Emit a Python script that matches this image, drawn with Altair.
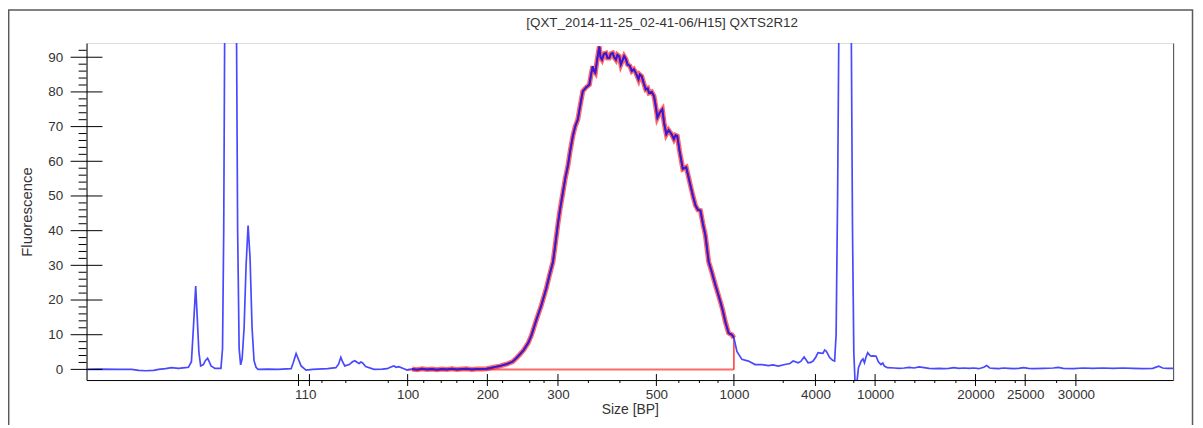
import altair as alt
import pandas as pd

# ---------------- data ----------------
# migration position (instrument time units) and fluorescence
trace_t = [87, 100, 120, 133, 140, 147, 155, 160, 167, 173, 180, 187, 190, 193, 195, 197.3, 199, 200.5,
           202.3, 205, 207, 209.3, 211, 212.7, 216.7, 222.7, 224.3, 225.5, 227, 229, 232.5, 236, 238.3,
           239.5, 241, 242.5, 244, 246, 248, 250, 252, 254, 256, 258, 260, 270, 280, 293.3, 295.5, 298.3,
           300.5, 303.3, 308.3, 315, 330, 338.3, 341, 343.3, 345, 347.3, 351.7, 355, 357.3, 360, 361.7,
           363.5, 365, 368.3, 376.7, 385, 390, 393, 396.7, 399, 401.7, 406.7, 410, 415, 420, 425, 430,
           435, 440, 445, 450, 455, 460, 465, 470, 475, 480, 485, 490, 495, 500, 503.3, 507, 510, 513.3,
           516, 520, 523.3, 527, 531.7, 535, 540, 545, 550, 553, 556.7, 559, 561.7, 564, 566.7, 569,
           571.7, 574, 576.7, 579, 581.7, 584, 586.7, 590, 593.3, 595, 596.7, 598, 599.3, 601, 603.3,
           604.5, 606, 608, 610, 611.5, 613.3, 615, 616.7, 618.3, 620, 621.5, 623.3, 625, 626.5, 628.3,
           630, 631.7, 634, 636, 638, 640, 642.7, 644, 646, 648, 650, 652, 653.3, 656, 658.3, 660, 661.7,
           664, 666.7, 668.5, 670.7, 673, 676, 678.3, 680, 681.7, 684, 687.3, 690.7, 693, 695, 697.5,
           700, 702.5, 705, 707.5, 710, 713.3, 716, 720, 722.5, 725, 727.5, 730, 733.3, 735, 736.7,
           738.7, 741.7, 746.7, 753.3, 760, 766.7, 773.3, 778, 783.3, 790, 795, 798.3, 803.3, 806,
           809.3, 813.3, 816, 818.3, 821, 823.3, 826, 828.3, 830, 831.7, 835, 838, 840, 841.5, 843,
           844.3, 847, 850.5, 854, 856.7, 858, 859.3, 860.5, 862.5, 864, 866.7, 868.5, 870, 871.5,
           873.3, 875, 876.7, 879, 881.7, 884, 886.7, 888.5, 890, 893, 900, 905, 910, 915, 920, 925,
           930, 935, 940, 945, 950, 955, 960, 965, 970, 975, 980, 985, 990, 993, 996, 1000, 1005,
           1010, 1015, 1020, 1025, 1030, 1035, 1040, 1050, 1060, 1065, 1070, 1080, 1090, 1100, 1110,
           1120, 1130, 1140, 1150, 1160, 1166, 1170, 1175, 1180.5]
trace_fluor = [0.0, 0.1, 0.0, 0.0, -0.3, -0.4, -0.3, 0.0, 0.2, 0.5, 0.3, 0.5, 0.6, 2.2, 12, 24, 14, 5,
               1.0, 1.4, 2.5, 3.2, 2.2, 1.0, 0.3, 0.3, 6, 40, 130, 250, 350, 250, 100,
               40, 6, 1.3, 3, 12, 30, 41.5, 32, 12, 2.5, 0.6, 0.0, 0.1, 0.0, 0.2, 2, 4.6,
               3, 1.0, -0.2, 0.0, 0.2, 0.5, 1.5, 3.5, 2.2, 1.0, 1.4, 2.2, 2.5, 2.0, 1.7,
               2.1, 1.9, 0.8, 0.0, 0.1, 0.2, 0.6, 1.0, 0.6, 0.8, 0.2, -0.2, 0.1, -0.1, 0.2, 0.0,
               0.1, -0.1, 0.1, 0.0, 0.2, 0.0, 0.1, 0.2, 0.0, 0.1, 0.1, 0.2, 0.5, 0.8, 0.95, 1.3, 1.5, 1.9,
               2.2, 3.3, 4.3, 5.5, 7.6, 9.8, 14.3, 18.5, 23.4, 27, 31, 36, 42, 46.5, 51, 55,
               58.7, 63, 67.3, 70, 72.1, 76, 80.2, 81.3, 82.1, 85, 87.4, 86, 85.5, 89, 93.1,
               90, 89.3, 91, 91.2, 89.8, 89.8, 91, 91.2, 90, 89.3, 90.7, 90.3, 87.9, 89, 90.3,
               89.5, 87.9, 87.5, 86, 86.5, 85.5, 83.6, 85, 84.5, 82.5, 80.7, 81, 79.7, 80, 78.8, 76, 72.6,
               74, 75, 71, 67.8, 69, 67.8, 66.4, 67.5, 67.3, 63, 57.8, 58.3, 55.5, 53, 50,
               47.3, 46, 45.8, 42, 38.7, 31, 28.5, 24.4, 22, 19.6, 17, 13.8, 10.5, 10.2, 10,
               9.1, 5.2, 2.9, 2.4, 1.4, 1.4, 1.1, 1.3, 0.95, 1.4, 1.7, 2.4, 1.9, 2.3,
               3.6, 1.9, 2.0, 2.4, 3.5, 4.8, 4.7, 4.6, 5.6, 5.2, 3.4, 2.6, 2.4, 10, 50,
               100, 250, 350, 250, 100, 40, 5, -3.5, -3.5, 0.5, 2.4, 3.0, 1.9, 3.5,
               4.8, 4.2, 3.8, 3.9, 3.8, 2.2, 1.4, 1.8, 0.95, 0.5, 0.4, 0.3, 0.4, 0.6, 0.4, 0.7,
               0.5, 0.3, 0.2, 0.3, 0.2, 0.3, 0.5, 0.3, 0.4, 0.3, 0.4, 0.2, 0.6, 1.1, 0.4, 0.3, 0.2,
               0.4, 0.3, 0.2, 0.3, 0.5, 0.3, 0.2, 0.3, 0.4, 0.6, 0.3, 0.2, 0.4, 0.3, 0.4,
               0.3, 0.4, 0.3, 0.2, 0.3, 0.9, 0.4, 0.3, 0.3]

# size-ladder tick positions and their labels
label_pos = [307.5, 410.5, 490.7, 561.7, 660.7, 738.7, 820.7, 880.7, 981.7, 1031.7, 1082.7]
label_text = ["110", "100", "200", "300", "500", "1000", "4000", "10000", "20000", "25000", "30000"]
major_tick_pos = [300.7, 311.7, 410.5, 490.7, 561.7, 660.7, 738.7, 820.7, 880.7, 981.7, 1031.7, 1082.7]
minor_tick_pos = [324.3, 348.3, 391, 426.7, 444.3, 460, 476.7, 506, 533.3, 547.7, 592.3, 624, 683.3,
                  704, 722.7, 788.3, 840, 859.3, 900.7, 920.7, 940.7, 962, 1001.7, 1021.7, 1063.3]

y_major = [0, 10, 20, 30, 40, 50, 60, 70, 80, 90]
y_minor = [2, 4, 6, 8, 12, 14, 16, 18, 22, 24, 26, 28, 32, 34, 36, 38, 42, 44, 46, 48, 52, 54, 56, 58,
           62, 64, 66, 68, 72, 74, 76, 78, 82, 84, 86, 88, 92]

# region of interest (100 bp .. 1000 bp)
roi_start = 410.5
roi_end = 738.7
roi_end_fluor = 9.1

title_text = "[QXT_2014-11-25_02-41-06/H15] QXTS2R12"

# ---------------- chart ----------------
W, H = 1093, 339
FONT = "Liberation Sans"
TXT = "#333333"

trace = pd.DataFrame({"t": trace_t, "f": trace_fluor})
xmaj = pd.DataFrame({"t": major_tick_pos})
xmin = pd.DataFrame({"t": minor_tick_pos})
ymaj = pd.DataFrame({"f": y_major})
ymin = pd.DataFrame({"f": y_minor})
roi_base = pd.DataFrame({"t": [roi_start], "t2": [roi_end], "f": [0]})
roi_vert = pd.DataFrame({"t": [roi_end], "f": [0], "f2": [roi_end_fluor]})
title_df = pd.DataFrame({"label": [title_text]})

xs = alt.Scale(domain=[87.5, 1180.5], nice=False, zero=False)
ys = alt.Scale(domain=[-3.07, 94.1], nice=False, zero=False)

label_expr = "[" + ",".join("'%s'" % s for s in label_text) + "][indexof([" + \
    ",".join(str(v) for v in label_pos) + "], datum.value)]"

x_axis = alt.Axis(values=label_pos, labelExpr=label_expr, ticks=False, tickSize=0, grid=False,
                  domainColor="#000000", domainWidth=1, labelFont=FONT, labelFontSize=13.5,
                  labelColor=TXT, labelPadding=8, labelOverlap=False, labelFlush=False,
                  title="Size [BP]", titleFont=FONT, titleFontSize=14, titleFontWeight="normal",
                  titleColor=TXT, titlePadding=1)
y_axis = alt.Axis(values=y_major, ticks=False, tickSize=0, grid=False, domainColor="#000000",
                  domainWidth=1, labelFont=FONT, labelFontSize=13.5, labelColor=TXT, labelPadding=24,
                  title="Fluorescence", titleFont=FONT, titleFontSize=15, titleFontWeight="normal",
                  titleColor=TXT, titlePadding=13)
y_axis_right = alt.Axis(orient="right", labels=False, ticks=False, tickSize=0, grid=False,
                        domainColor="#4a4a4a", domainWidth=1, title=None)

frame = alt.Chart(pd.DataFrame({"k": [0]})).mark_rect(
    fillOpacity=0, stroke="#5a5a5a", strokeWidth=1.5, clip=False
).encode(x=alt.value(-78.3), x2=alt.value(1112.5), y=alt.value(-33.3), y2=alt.value(430))

title_mark = alt.Chart(title_df).mark_text(
    font=FONT, fontSize=13.5, color=TXT, align="center", baseline="middle", clip=False
).encode(text="label:N", x=alt.value(579), y=alt.value(-20))

blue_trace = alt.Chart(trace).mark_line(color="#4848ff", strokeWidth=1.7, clip=True).encode(
    x=alt.X("t:Q", scale=xs, axis=x_axis), y=alt.Y("f:Q", scale=ys, axis=y_axis))

red_base = alt.Chart(roi_base).mark_rule(color="#ff6a6a", strokeWidth=2).encode(
    x=alt.X("t:Q", scale=xs, axis=x_axis), x2="t2:Q", y=alt.Y("f:Q", scale=ys, axis=None))
red_vert = alt.Chart(roi_vert).mark_rule(color="#ff0000", strokeWidth=1.2).encode(
    x=alt.X("t:Q", scale=xs, axis=x_axis), y=alt.Y("f:Q", scale=ys, axis=None), y2="f2:Q")

red_trace = alt.Chart(trace).transform_filter(
    (alt.datum.t >= roi_start) & (alt.datum.t <= roi_end)
).mark_line(color="#ff0000", strokeWidth=5, opacity=0.6, clip=True).encode(
    x=alt.X("t:Q", scale=xs, axis=x_axis), y=alt.Y("f:Q", scale=ys, axis=None))

dark_trace = alt.Chart(trace).transform_filter(
    (alt.datum.t >= roi_start) & (alt.datum.t <= roi_end)
).mark_line(color="#3a18d0", strokeWidth=2, clip=True).encode(
    x=alt.X("t:Q", scale=xs, axis=x_axis), y=alt.Y("f:Q", scale=ys, axis=None))

ymaj_ticks = alt.Chart(ymaj).mark_rule(color="#000000", strokeWidth=1).encode(
    y=alt.Y("f:Q", scale=ys, axis=y_axis_right), x=alt.value(-16), x2=alt.value(16))
ymin_ticks = alt.Chart(ymin).mark_rule(color="#000000", strokeWidth=1).encode(
    y=alt.Y("f:Q", scale=ys, axis=None), x=alt.value(-8), x2=alt.value(0))
xmaj_ticks = alt.Chart(xmaj).mark_rule(color="#000000", strokeWidth=1).encode(
    x=alt.X("t:Q", scale=xs, axis=x_axis), y=alt.value(H - 6), y2=alt.value(H + 6))
xmin_ticks = alt.Chart(xmin).mark_rule(color="#000000", strokeWidth=1).encode(
    x=alt.X("t:Q", scale=xs, axis=x_axis), y=alt.value(H), y2=alt.value(H + 3))

chart = alt.layer(
    red_base, red_vert, red_trace, blue_trace, dark_trace,
    ymaj_ticks, ymin_ticks, xmaj_ticks, xmin_ticks, frame, title_mark
).resolve_axis(y="independent").properties(
    width=W, height=H,
    autosize=alt.AutoSizeParams(type="none"),
    padding={"left": 79, "top": 34, "right": 22, "bottom": 44},
).configure_view(stroke="#c0c0c0", strokeWidth=1).configure(background="white")

chart.save("out.html", embed_options={"renderer": "svg", "actions": False})
